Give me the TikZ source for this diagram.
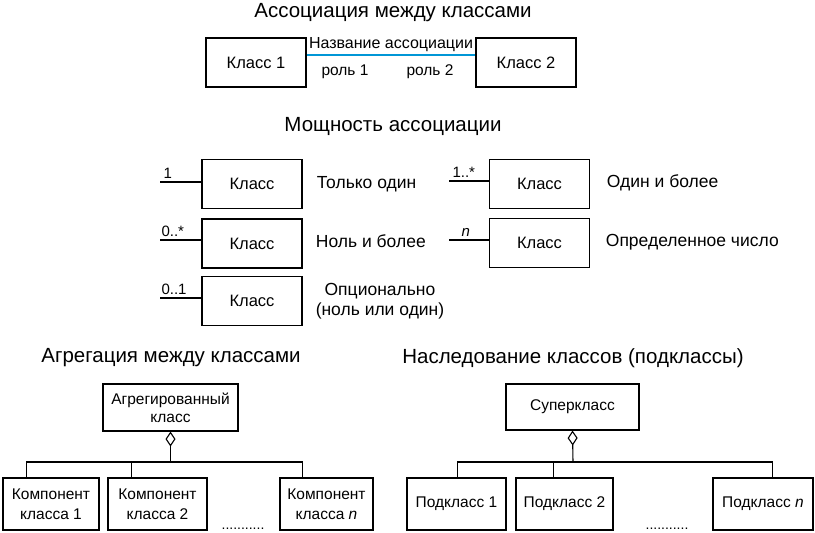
\documentclass[tikz,border=0pt]{standalone}
\usepackage{fontspec}
\setmainfont{Liberation Sans}
\usetikzlibrary{calc}
\usetikzlibrary{arrows.meta}
\definecolor{assocblue}{RGB}{0,150,214}

\begin{document}
\begin{tikzpicture}[x=1pt,y=-1pt,line width=1.1pt,
    cls/.style={draw,minimum width=100pt,minimum height=49pt,inner sep=0pt,font=\fontsize{16.5}{18}\selectfont},
    part/.style={draw,minimum height=52pt,inner sep=0pt,align=center,font=\fontsize{15.5}{20}\selectfont},
    ttl/.style={font=\fontsize{20.5}{24}\selectfont},
    txt/.style={font=\fontsize{17.5}{20}\selectfont,align=center},
    mult/.style={font=\fontsize{15}{16}\selectfont,inner sep=1pt,yshift=2pt},
    role/.style={font=\fontsize{15.5}{17}\selectfont,inner sep=1pt},
    agg/.style={-{Diamond[open,length=15pt,width=10pt]}}]
            \useasboundingbox (0,0) rectangle (815,533);
            % ассоциация
            \node[ttl] (t1) at (393,13) {Ассоциация между классами};
            \node[cls] (k1) at (256,62.5) {Класс 1};
            \node[cls] (k2) at (526,62.5) {Класс 2};
            \draw[assocblue,line width=1.3pt]($(k1.east)+(0,-7.5)$)--($(k2.west)+(0,-7.5)$);
            \node[role,font=\fontsize{16}{17}\selectfont] (an) at (391,45) {Название ассоциации};
            \node[role] (r1) at (345,72) {роль 1};
            \node[role] (r2) at (430,72) {роль 2};
            % мощность
            \node[ttl] (t2) at (393,126) {Мощность ассоциации};
            \node[cls] (m1) at (252,184) {Класс};
            \node[cls] (m2) at (252,243.5) {Класс};
            \node[cls] (m3) at (252,301) {Класс};
            \node[cls] (m4) at (539.5,184) {Класс};
            \node[cls] (m5) at (539.5,243) {Класс};
            \coordinate (s1) at (160,182);
            \coordinate (s2) at (160,240);
            \coordinate (s3) at (160,298);
            \coordinate (s4) at (449,181);
            \coordinate (s5) at (449,240);
            \draw(s1)node[mult,above right,xshift=2pt]{1}--(s1-|m1.west);
            \draw(s2)node[mult,above right]{0..*}--(s2-|m2.west);
            \draw(s3)node[mult,above right]{0..1}--(s3-|m3.west);
            \draw(s4)node[mult,above right,xshift=2pt]{1..*}--(s4-|m4.west);
            \draw(s5)node[mult,above right,xshift=11pt]{\itshape n}--(s5-|m5.west);
            \node[txt,anchor=west] (d1) at (313,184) {Только один};
            \node[txt,anchor=west] (d2) at (312,241) {Ноль и более};
            \node[txt] (d3) at (380,301) {Опционально\\(ноль или один)};
            \node[txt,anchor=west] (d4) at (603,183) {Один и более};
            \node[txt,anchor=west] (d5) at (602,242) {Определенное число};
            % агрегация
            \node[ttl] (t3) at (171,358) {Агрегация между классами};
            \node[part,minimum width=135pt,minimum height=47pt,font=\fontsize{15.5}{18}\selectfont] (ag) at (170.5,407.5) {Агрегированный\\класс};
            \node[part,minimum width=96pt] (c1) at (51,504) {Компонент\\класса 1};
            \node[part,minimum width=99pt] (c2) at (157.5,504) {Компонент\\класса 2};
            \node[part,minimum width=93pt] (c3) at (326.5,504) {Компонент\\класса \textit{n}};
            \node[font=\fontsize{14}{16}\selectfont] (e1) at (243,529) {...........};
            \coordinate (j1) at (170.5,462);
            \draw[agg](j1)--(ag.south);
            \draw(j1-|c1.north west)++(24,0)coordinate(a1)--(a1|-c1.north);
            \draw(a1)-|($(c3.north west)+(23,0)$);
            \draw($(c2.north west)+(24,0)$)--++(0,-16);
            % наследование
            \node[ttl] (t4) at (573,358) {Наследование классов (подклассы)};
            \node[part,minimum width=133pt,minimum height=46pt] (sup) at (572.5,407) {Суперкласс};
            \node[part,minimum width=99pt] (p1) at (456.5,504) {Подкласс 1};
            \node[part,minimum width=97pt] (p2) at (564.5,504) {Подкласс 2};
            \node[part,minimum width=100pt] (p3) at (763,504) {Подкласс \textit{n}};
            \node[font=\fontsize{14}{16}\selectfont] (e2) at (667,529) {...........};
            \coordinate (j2) at (573,462);
            \draw[agg](j2)--(sup.south);
            \draw(j2-|p1.north west)++(51,0)coordinate(b1)--(b1|-p1.north);
            \draw(b1)-|($(p3.north west)+(60,0)$);
            \draw($(p2.north west)+(38,0)$)--++(0,-16);
        \end{tikzpicture}
\end{document}
